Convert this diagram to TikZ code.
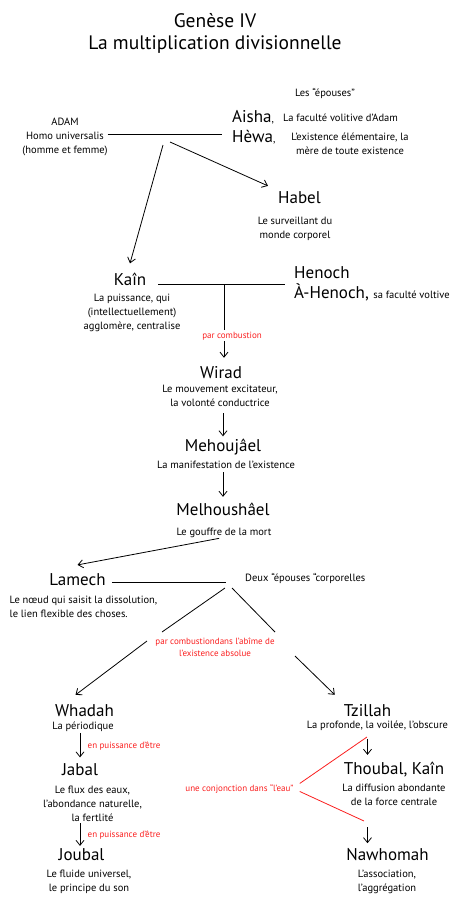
\documentclass[tikz,border=0pt]{standalone}
\usepackage{fontspec}
\setmainfont{PT Sans}
\usetikzlibrary{arrows.meta,calc}
\definecolor{notered}{RGB}{250,30,30}
\newcommand\glossfont{\fontsize{10.5}{14}\selectfont}
\tikzset{
  person/.style={
    font=\fontsize{17}{20}\selectfont,
    inner sep=1pt
  },
  gloss/.style={
    font=\glossfont,
    align=center,
    inner sep=0pt
  },
  remark/.style={
    text=notered,
    font=\fontsize{9}{12}\selectfont,
    align=center,
    inner sep=1pt
  },
  link/.style={
    line width=0.8pt
  },
  descent/.style={
    line width=0.8pt,
    -{Straight Barb[length=5pt,width=8pt]}
  },
  bond/.style={
    draw=notered,
    line width=0.8pt
  }
}
\begin{document}
\begin{tikzpicture}[x=1pt,y=-1pt]
    \useasboundingbox (0,0) rectangle (459,900);
    % titre
    \node[anchor=base, font=\fontsize{19.5}{22}\selectfont] (title) at (215,27) {Genèse IV};
    \node[anchor=base, font=\fontsize{19.5}{22}\selectfont] (subtitle) at (215,49.5) {La multiplication divisionnelle};
    % Adam et les epouses
    \node[gloss, anchor=base] (wives) at (325,96) {Les “épouses”};
    \node[gloss, anchor=north] (adam) at (65,118) {ADAM\\Homo universalis\\(homme et femme)};
    \node[person, anchor=base west] (aisha) at (231,122) {Aisha{\glossfont,}};
    \node[gloss, anchor=base west] (aishad) at (283,121) {La faculté volitive d'Adam};
    \node[person, anchor=base west] (hewa) at (231,142) {Hèwa{\glossfont,}};
    \node[gloss, anchor=north] (hewad) at (350,133) {L'existence élémentaire, la\\mère de toute existence};
    \node[person, anchor=base] (habel) at (299.5,203) {Habel};
    \node[gloss, anchor=north] (habeld) at (295,217) {Le surveillant du\\monde corporel};
    % Kain et Henoch
    \node[person, anchor=base] (kain) at (130,285) {Kaîn};
    \node[gloss, anchor=north] (kaind) at (132,293.5) {La puissance, qui\\(intellectuellement)\\agglomère, centralise};
    \node[person, anchor=base west] (henoch) at (293,278) {Henoch};
    \node[person, anchor=base west] (ahenoch) at (293,298) {À-Henoch, {\glossfont sa faculté voltive}};
    \node[remark, anchor=base] (combust) at (232,338) {par combustion};
    % descendance
    \node[person, anchor=base] (wirad) at (221,378) {Wirad};
    \node[gloss, anchor=north] (wiradd) at (220,384.4) {Le mouvement excitateur,\\la volonté conductrice};
    \node[person, anchor=base] (meh) at (223,451) {Mehoujâel};
    \node[gloss, anchor=base] (mehd) at (226,468) {La manifestation de l'existence};
    \node[person, anchor=base] (melh) at (223,515) {Melhoushâel};
    \node[gloss, anchor=base] (melhd) at (224,535) {Le gouffre de la mort};
    \node[person, anchor=base] (lamech) at (77.5,585) {Lamech};
    \node[gloss, anchor=north west, align=left] (lamechd) at (9.5,595.4) {Le nœud qui saisit la dissolution,\\le lien flexible des choses.};
    \node[gloss, anchor=base west] (deux) at (245,581.6) {Deux “épouses “corporelles};
    \node[remark, anchor=north] (abime) at (215,637) {par combustiondans l'abîme de\\l'existence absolue};
    % branche de Whadah
    \node[person, anchor=base] (whadah) at (84.5,716) {Whadah};
    \node[gloss, anchor=base] (whadahd) at (83,729) {La périodique};
    \node[remark, anchor=base west] (power1) at (86.5,748) {en puissance d'être};
    \node[person, anchor=base] (jabal) at (80,775) {Jabal};
    \node[gloss, anchor=north] (jabald) at (92.5,785.4) {Le flux des eaux,\\l’abondance naturelle,\\la fertlité};
    \node[remark, anchor=base west] (power2) at (86.5,837) {en puissance d'être};
    \node[person, anchor=base] (joubal) at (81.5,860) {Joubal};
    \node[gloss, anchor=north] (joubald) at (89,870) {Le fluide universel,\\le principe du son};
    % branche de Tzillah
    \node[person, anchor=base] (tzillah) at (367.5,716) {Tzillah};
    \node[gloss, anchor=base] (tzillahd) at (377.5,728.5) {La profonde, la voilée, l'obscure};
    \node[person, anchor=base] (thoubal) at (394,774) {Thoubal, Kaîn};
    \node[gloss, anchor=north] (thoubald) at (394,783.4) {La diffusion abondante\\de la force centrale};
    \node[person, anchor=base] (nawh) at (387.5,860) {Nawhomah};
    \node[gloss, anchor=north] (nawhd) at (387,870) {L’association,\\l'aggrégation};
    \node[remark, anchor=base] (conj) at (239.5,791) {une conjonction dans “l'eau”};

    % jonctions
    \coordinate (wivesJ) at (222,134);
    \coordinate (forkK) at (163,145);
    \coordinate (forkH) at (170,142);
    \coordinate (kainJ) at (224,284.3);
    \coordinate (lamJ) at (226,582);
    \coordinate (splitL) at (225,588);
    \coordinate (splitR) at (232,588);
    \coordinate (cutL) at (162,632);
    \coordinate (cutR) at (275,632);
    \coordinate (resumeL) at (147,641);
    \coordinate (resumeR) at (295,656);
    \coordinate (conjT) at (367,737);
    \coordinate (conjB) at (364,821);

    \draw[link] (adam.east |- wivesJ) -- (wivesJ);
    \draw[descent] (forkK) -- ([yshift=8pt]kain.north);
    \draw[descent] (forkH) -- ([xshift=-9pt,yshift=4pt]habel.north west);
    \draw[link, shorten <=11pt, shorten >=8pt] (kain.east |- kainJ) -- (henoch.west |- kainJ);
    \draw[link] (kainJ) -- (combust.north -| kainJ);
    \draw[descent, shorten >=7pt] (combust.south -| kainJ) -- (wirad.north -| kainJ);
    \draw[descent, shorten <=7pt, shorten >=1pt] (wiradd.south -| meh) -- (meh.north);
    \draw[descent, shorten <=4pt, shorten >=4.5pt] (mehd.south -| melh) -- (melh.north);
    \draw[descent, shorten <=5pt] (melhd.south) -- ([yshift=7pt]lamech.north);
    \draw[link, shorten <=5pt] (lamech.east |- lamJ) -- (lamJ);
    \draw[link] (splitL) -- (cutL);
    \draw[link] (splitR) -- (cutR);
    \draw[descent] (resumeL) -- ([xshift=-9pt,yshift=8pt]whadah.north);
    \draw[descent] (resumeR) -- ([xshift=-8pt,yshift=8pt]tzillah.north west);
    \draw[descent, shorten <=1.5pt, shorten >=4.5pt] (whadahd.south -| jabal) -- (jabal.north);
    \draw[descent, shorten <=2pt, shorten >=1pt] (jabald.south -| jabal) -- (joubal.north -| jabal);
    \draw[descent, shorten <=8pt, shorten >=5.5pt] (tzillahd.south -| tzillah) -- (thoubal.north -| tzillah);
    \draw[descent, shorten <=22pt, shorten >=3.5pt] (thoubald.south -| tzillah) -- (nawh.north -| tzillah);
    \draw[bond] ([xshift=5pt,yshift=5pt]conj.east) -- (conjT);
    \draw[bond] ([xshift=5pt,yshift=-3pt]conj.east) -- (conjB);
\end{tikzpicture}
\end{document}
